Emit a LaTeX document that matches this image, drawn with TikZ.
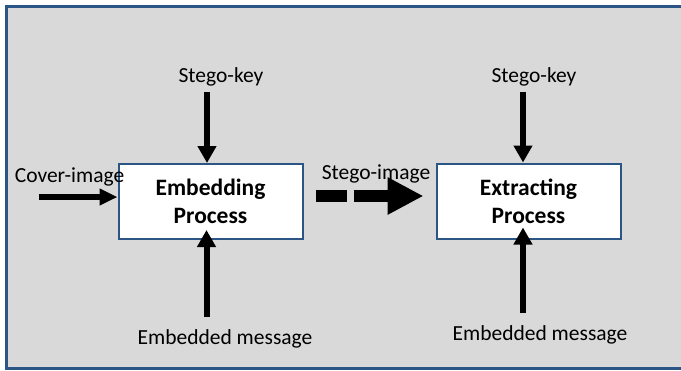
\documentclass[tikz,border=0pt]{standalone}
\usepackage{fontspec}
\setmainfont{Carlito}
\usetikzlibrary{positioning,arrows.meta}
\definecolor{framecol}{HTML}{2A5585}
\definecolor{panel}{HTML}{D9D9D9}

\begin{document}
\begin{tikzpicture}[x=1pt,y=-1pt,>={Triangle[length=17pt,width=18pt]},
  proc/.style={draw=framecol,line width=2pt,fill=white,minimum width=184pt,
    minimum height=75pt,align=center,font=\fontsize{23.5}{28}\selectfont\bfseries},
  lbl/.style={font=\fontsize{21.5}{25}\selectfont,inner sep=0pt},
  feed/.style={->,line width=6pt}]
\clip (0,0) rectangle (681,370);
% grey panel with its frame, running off the right side
\fill[panel] (5,6) rectangle (700,368);
\draw[framecol,line width=3pt] (700,6.5) -- (6.5,6.5) -- (6.5,368.5) -- (700,368.5);

% the two processes
\node[proc] (embed) at (210.5,201.5) {Embedding\\Process};
\node[proc] (extract) at (528.5,201) {Extracting\\Process};

% inputs and labels
\node[lbl] (key1) at (221,77) {Stego-key};
\node[lbl] (key2) at (534,77) {Stego-key};
\node[lbl] (msg1) at (225,339) {Embedded message};
\node[lbl] (msg2) at (540,335) {Embedded message};
\node[lbl] (cover) at (69.5,177) {Cover-image};
\node[lbl] (stego) at (376,174) {Stego-image};
\coordinate (coverin) at (39,197);

\draw[feed,shorten <=5pt] ([xshift=-14pt]key1.south) -- ([xshift=-14pt]key1.south |- embed.north);
\draw[feed,shorten <=5pt] ([xshift=-11pt]key2.south) -- ([xshift=-11pt]key2.south |- extract.north);
\draw[feed,shorten <=12pt,shorten >=-10pt] ([xshift=-18.5pt]msg1.north) -- ([xshift=-18.5pt]msg1.north |- embed.south);
\draw[feed,shorten <=12pt,shorten >=-12pt] ([xshift=-17pt]msg2.north) -- ([xshift=-17pt]msg2.north |- extract.south);
\draw[line width=6pt,-{Triangle[length=18pt,width=16pt]}] (coverin) -- (coverin -| embed.west);

% stego-image handed over
\draw[line width=12pt,-{Triangle[length=36pt,width=35pt]},dash pattern=on 31pt off 7pt on 90pt,
  shorten <=12pt,shorten >=12pt] ([yshift=5.5pt]embed.east) -- ([yshift=5.5pt]embed.east -| extract.west);
\end{tikzpicture}
\end{document}
